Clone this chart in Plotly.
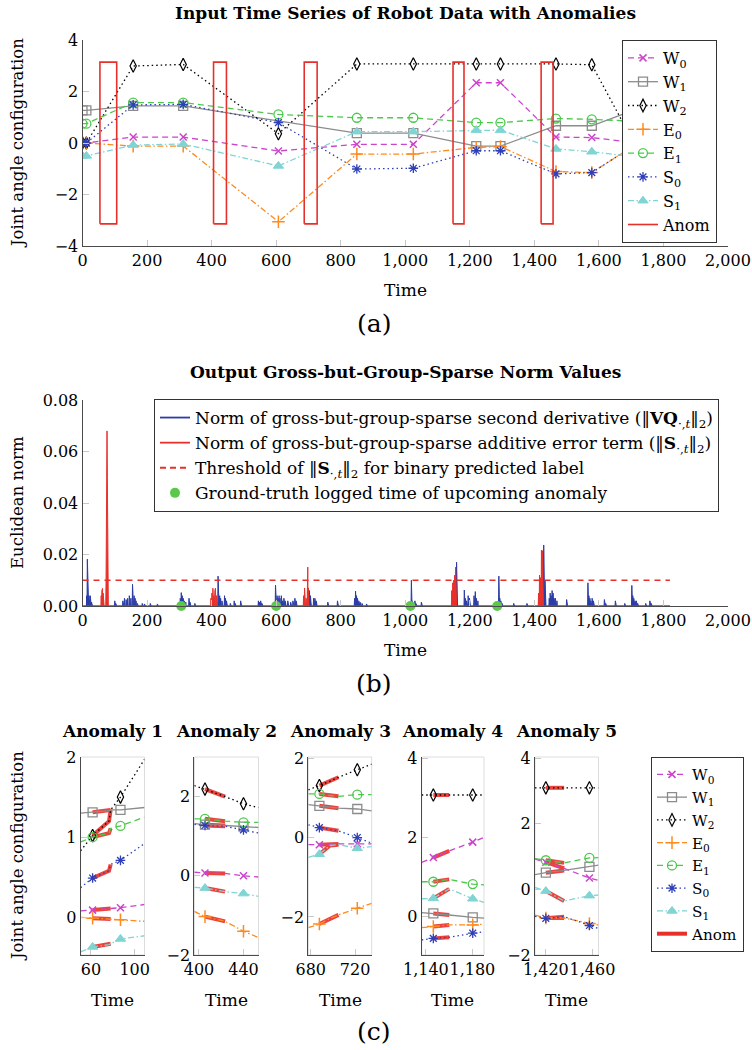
import numpy as np
import plotly.graph_objects as go

FONT = "DejaVu Serif"
W, H = 752, 1050

# ---------------- (a) input time series ----------------
time_a = [0, 12, 157, 312, 607, 850, 1025, 1220, 1295, 1467, 1578, 1700]
w0_a = [0.0, 0.0, 0.23, 0.23, -0.31, -0.05, -0.05, 2.34, 2.34, 0.23, 0.21, 0.03]
w1_a = [1.27, 1.27, 1.44, 1.44, None, 0.38, 0.38, -0.12, -0.12, 0.67, 0.67, 1.24]
w2_a = [0.0, 0.0, 2.99, 3.05, 0.36, 3.07, 3.07, 3.07, 3.07, 3.07, 3.04, 0.2]
e0_a = [0.0, 0.0, -0.12, -0.12, -3.06, -0.43, -0.43, -0.17, -0.14, -1.11, -1.15, -0.17]
e1_a = [0.75, 0.75, 1.57, 1.57, 1.11, 0.98, 0.98, 0.79, 0.79, 0.95, 0.92, 0.85]
s0_a = [0.0, 0.0, 1.48, 1.50, 0.79, -1.01, -0.98, -0.30, -0.30, -1.20, -1.15, -0.17]
s1_a = [-0.5, -0.5, -0.08, -0.04, -0.89, 0.44, 0.44, 0.50, 0.50, -0.23, -0.34, -0.52]

anom_start = [54, 406, 687, 1148, 1421]
anom_end = [106, 446, 727, 1182, 1458]
anom_low, anom_high = -3.14, 3.14

# ---------------- (b) norm values ----------------
norm_t_end = 1820
vq_spike_t = [13, 15, 16, 18, 20, 22, 24, 26, 28, 100, 103,
              125, 130, 135, 140, 145, 150, 155, 157, 160, 163, 166, 170, 185, 192, 210, 232,
              303, 306, 309, 312, 315, 320, 330, 333, 348,
              420, 422, 425, 428, 432, 440, 443, 446, 458, 470, 473, 490,
              545, 548, 552, 556,
              598, 600, 603, 606, 609, 612, 616, 620, 624, 628, 636, 645, 652, 658, 662,
              703, 706, 716, 720, 724, 760, 790,
              843, 846, 849, 852, 856, 860, 866, 880,
              1019, 1022, 1030, 1033, 1050,
              1159, 1161, 1183, 1186, 1190, 1195, 1199, 1213, 1217, 1220, 1225,
              1290, 1293, 1296, 1300, 1336, 1377,
              1429, 1431, 1433, 1446, 1449, 1452, 1455, 1458, 1461, 1465, 1470, 1500,
              1566, 1569, 1572, 1575, 1579, 1583, 1617, 1621, 1651, 1680,
              1702, 1705, 1708, 1712, 1716, 1720, 1745, 1758, 1762]
vq_spike_v = [0.004, 0.0182, 0.008, 0.003, 0.004, 0.002, 0.004, 0.003, 0.0015, 0.002, 0.001,
              0.002, 0.003, 0.0025, 0.003, 0.004, 0.003, 0.0084, 0.006, 0.004, 0.003, 0.002, 0.001, 0.001, 0.0008, 0.001, 0.0008,
              0.003, 0.0052, 0.004, 0.003, 0.002, 0.0015, 0.003, 0.0015, 0.001,
              0.0116, 0.006, 0.004, 0.003, 0.002, 0.004, 0.003, 0.002, 0.001, 0.002, 0.001, 0.002,
              0.002, 0.0015, 0.002, 0.001,
              0.0081, 0.005, 0.004, 0.003, 0.004, 0.003, 0.004, 0.002, 0.003, 0.002, 0.002, 0.0015, 0.002, 0.003, 0.002,
              0.006, 0.004, 0.003, 0.003, 0.002, 0.0015, 0.002,
              0.003, 0.0058, 0.004, 0.003, 0.002, 0.0015, 0.001, 0.0008,
              0.0100, 0.002, 0.002, 0.001, 0.0015,
              0.017, 0.008, 0.0062, 0.003, 0.002, 0.004, 0.003, 0.004, 0.0056, 0.003, 0.002,
              0.0116, 0.003, 0.002, 0.001, 0.001, 0.001,
              0.0237, 0.023, 0.01, 0.003, 0.005, 0.004, 0.006, 0.005, 0.003, 0.003, 0.002, 0.0025,
              0.009, 0.004, 0.003, 0.002, 0.003, 0.002, 0.0025, 0.001, 0.002, 0.001,
              0.008, 0.004, 0.003, 0.002, 0.002, 0.001, 0.001, 0.002, 0.001]
s_spike_t = [58, 60, 62, 64, 66, 73, 74, 75, 76, 77, 78,
             398, 401, 404, 407, 410, 412, 415,
             685, 688, 690, 693, 697, 698, 700,
             1144, 1147, 1150, 1153, 1156, 1158,
             1413, 1416, 1419, 1422, 1425, 1427]
s_spike_v = [0.004, 0.006, 0.0068, 0.005, 0.002, 0.01, 0.05, 0.068, 0.068, 0.05, 0.01,
             0.003, 0.005, 0.0069, 0.004, 0.006, 0.0069, 0.004,
             0.004, 0.007, 0.006, 0.003, 0.008, 0.0151, 0.007,
             0.006, 0.009, 0.01, 0.012, 0.0151, 0.008,
             0.005, 0.012, 0.011, 0.0217, 0.0215, 0.01]
threshold = 0.01
gt_anomaly_t = [306, 600, 1016, 1285]

# ---------------- (c) zoomed anomalies ----------------
a1_t = [50.5, 61.5, 76.5, 78, 87, 109]
a1_W0 = [0.08, 0.09, 0.105, 0.11, 0.12, 0.16]
a1_W1 = [1.30, 1.31, 1.33, 1.34, 1.34, 1.37]
a1_W2 = [0.83, 1.02, 1.2, 1.34, 1.5, 1.97]
a1_E0 = [0.0, -0.01, -0.02, -0.02, -0.03, -0.05]
a1_E1 = [0.94, 1.0, 1.05, 1.11, 1.14, 1.25]
a1_S0 = [0.37, 0.49, 0.58, 0.66, 0.71, 0.92]
a1_S1 = [-0.43, -0.37, -0.34, -0.33, -0.27, -0.23]

a2_t = [395.8, 405.4, 423.5, 440, 453.5]
a2_W0 = [0.09, 0.07, 0.06, 0.0, -0.03]
a2_W1 = [1.32, 1.29, 1.27, 1.24, 1.22]
a2_W2 = [2.28, 2.19, 2.0, 1.82, 1.72]
a2_E0 = [-0.9, -1.03, -1.15, -1.4, -1.56]
a2_E1 = [1.44, 1.44, 1.38, 1.35, 1.35]
a2_S0 = [1.30, 1.27, 1.25, 1.16, 1.08]
a2_S1 = [-0.29, -0.31, -0.40, -0.45, -0.52]

a3_t = [677.8, 687.8, 697.4, 705, 722, 735]
a3_W0 = [-0.18, -0.18, -0.17, -0.16, -0.16, -0.16]
a3_W1 = [0.83, 0.80, 0.77, 0.74, 0.72, 0.67]
a3_W2 = [1.2, 1.31, 1.42, 1.52, 1.71, 1.85]
a3_E0 = [-2.27, -2.18, -2.04, -1.95, -1.78, -1.66]
a3_E1 = [1.1, 1.1, 1.06, 1.04, 1.08, 1.08]
a3_S0 = [0.32, 0.25, 0.2, 0.17, 0.0, -0.14]
a3_S1 = [-0.5, -0.42, -0.2, -0.18, -0.27, -0.23]

a4_t = [1136.4, 1146.4, 1160.1, 1180.3, 1190]
a4_W0 = [1.37, 1.49, 1.66, 1.88, 2.0]
a4_W1 = [0.1, 0.08, 0.04, -0.02, -0.04]
a4_W2 = [3.07, 3.07, 3.07, 3.07, 3.07]
a4_E0 = [-0.28, -0.25, -0.21, -0.21, -0.19]
a4_E1 = [0.88, 0.88, 0.94, 0.82, 0.8]
a4_S0 = [-0.59, -0.55, -0.52, -0.42, -0.38]
a4_S1 = [0.45, 0.46, 0.7, 0.45, 0.36]

a5_t = [1410.7, 1420, 1435.7, 1457.4, 1465.2]
a5_W0 = [0.93, 0.83, 0.64, 0.35, 0.28]
a5_W1 = [0.45, 0.51, 0.58, 0.69, 0.74]
a5_W2 = [3.1, 3.1, 3.1, 3.1, 3.1]
a5_E0 = [-0.78, -0.87, -0.87, -1.04, -1.09]
a5_E1 = [0.94, 0.89, 0.81, 0.96, 0.97]
a5_S0 = [-0.82, -0.88, -0.83, -1.1, -1.19]
a5_S1 = [0.06, -0.05, -0.35, -0.19, -0.17]

c_marker_t = [[61.5, 87], [405.4, 440], [687.8, 722], [1146.4, 1180.3], [1420, 1457.4]]
c_anom = [[61.5, 78], [405.4, 423.5], [687.8, 705], [1146.4, 1160.1], [1420, 1435.7]]
c_titles = ["Anomaly 1", "Anomaly 2", "Anomaly 3", "Anomaly 4", "Anomaly 5"]
c_xrange = [[50.5, 109], [395.8, 453.5], [677.8, 735], [1136.4, 1190], [1410.7, 1465.2]]
c_yrange = [[-0.47, 2.0], [-2.0, 3.0], [-2.96, 2.03], [-0.97, 4.03], [-2.0, 4.04]]
c_xticks = [[60, 100], [400, 440], [680, 720], [1140, 1180], [1420, 1460]]
c_yticks = [[0, 1, 2], [-2, 0, 2], [-2, 0, 2], [0, 2, 4], [-2, 0, 2, 4]]

series_names = ["W<sub>0</sub>", "W<sub>1</sub>", "W<sub>2</sub>", "E<sub>0</sub>",
                "E<sub>1</sub>", "S<sub>0</sub>", "S<sub>1</sub>"]

# ---------------- styles ----------------
STY = [
    dict(color="#CC44CC", dash="6px,4px", symbol="x-thin-open", size=7, mlw=1.5),
    dict(color="#8C8C8C", dash="solid", symbol="square-open", size=9, mlw=1.3),
    dict(color="#000000", dash="1.5px,3px", symbol="diamond-tall-open", size=9, mlw=1.2),
    dict(color="#FF8A1E", dash="6px,2.5px,1.5px,2.5px", symbol="cross-thin-open", size=9, mlw=1.5),
    dict(color="#4CC94C", dash="6px,4px", symbol="circle-open", size=9, mlw=1.3),
    dict(color="#2E3FB8", dash="1.5px,3px", symbol="asterisk-open", size=8, mlw=1.3),
    dict(color="#80D4D4", dash="6px,2.5px,1.5px,2.5px", symbol="triangle-up", size=9, mlw=1),
]
RED = "#E8302A"
BLUE = "#2B3CA6"
GREEN = "#5CC84A"


def X(px):
    return px / W


def Y(py):
    return 1 - py / H


fig = go.Figure()

# ---------------- (a) traces ----------------
a_series = [w0_a, w1_a, w2_a, e0_a, e1_a, s0_a, s1_a]
for name, vals, st in zip(series_names, a_series, STY):
    fig.add_trace(go.Scatter(
        x=time_a, y=vals, name=name, mode="lines+markers", connectgaps=True,
        line=dict(color=st["color"], width=1.3, dash=st["dash"]),
        marker=dict(symbol=st["symbol"], size=st["size"], color=st["color"],
                    line=dict(color=st["color"], width=st["mlw"])),
        xaxis="x", yaxis="y", legend="legend"))

rx, ry = [], []
for s, e in zip(anom_start, anom_end):
    rx += [s, e, e, s, s, None]
    ry += [anom_low, anom_low, anom_high, anom_high, anom_low, None]
fig.add_trace(go.Scatter(x=rx, y=ry, name="Anom", mode="lines",
                         line=dict(color=RED, width=1.6), xaxis="x", yaxis="y",
                         legend="legend"))

# ---------------- (b) traces ----------------
t_b = np.arange(0, norm_t_end + 1)
vq_b = np.zeros(len(t_b))
vq_b[vq_spike_t] = vq_spike_v
s_b = np.zeros(len(t_b))
s_b[s_spike_t] = s_spike_v

fig.add_trace(go.Scatter(x=t_b, y=vq_b, mode="lines", line=dict(color=BLUE, width=1),
                         fill="tozeroy", fillcolor=BLUE, showlegend=False,
                         xaxis="x2", yaxis="y2"))
fig.add_trace(go.Scatter(x=t_b, y=s_b, mode="lines", line=dict(color=RED, width=1),
                         fill="tozeroy", fillcolor=RED, showlegend=False,
                         xaxis="x2", yaxis="y2"))
fig.add_trace(go.Scatter(x=[0, norm_t_end], y=[threshold, threshold], mode="lines",
                         line=dict(color=RED, width=1.5, dash="6px,5px"), showlegend=False,
                         xaxis="x2", yaxis="y2"))
fig.add_trace(go.Scatter(x=gt_anomaly_t, y=[0] * len(gt_anomaly_t), mode="markers",
                         marker=dict(color=GREEN, size=10), cliponaxis=False,
                         showlegend=False, xaxis="x2", yaxis="y2"))

b_leg = [
    ("Norm of gross-but-group-sparse second derivative (‖<b>VQ</b><sub>·,<i>t</i></sub>‖<sub>2</sub>)",
     dict(mode="lines", line=dict(color=BLUE, width=1.8))),
    ("Norm of gross-but-group-sparse additive error term (‖<b>S</b><sub>·,<i>t</i></sub>‖<sub>2</sub>)",
     dict(mode="lines", line=dict(color=RED, width=1.8))),
    ("Threshold of ‖<b>S</b><sub>·,<i>t</i></sub>‖<sub>2</sub> for binary predicted label",
     dict(mode="lines", line=dict(color=RED, width=1.8, dash="6px,4px"))),
    ("Ground-truth logged time of upcoming anomaly",
     dict(mode="markers", marker=dict(color=GREEN, size=10))),
]
for name, kw in b_leg:
    fig.add_trace(go.Scatter(x=[None], y=[None], name=name, xaxis="x2", yaxis="y2",
                             legend="legend2", **kw))

# ---------------- (c) traces ----------------
c_data = [
    (a1_t, [a1_W0, a1_W1, a1_W2, a1_E0, a1_E1, a1_S0, a1_S1]),
    (a2_t, [a2_W0, a2_W1, a2_W2, a2_E0, a2_E1, a2_S0, a2_S1]),
    (a3_t, [a3_W0, a3_W1, a3_W2, a3_E0, a3_E1, a3_S0, a3_S1]),
    (a4_t, [a4_W0, a4_W1, a4_W2, a4_E0, a4_E1, a4_S0, a4_S1]),
    (a5_t, [a5_W0, a5_W1, a5_W2, a5_E0, a5_E1, a5_S0, a5_S1]),
]
for k, (tt, vals_list) in enumerate(c_data):
    xa, ya = "x%d" % (k + 3), "y%d" % (k + 3)
    a0, a1 = c_anom[k]
    ox, oy = [], []
    for vals in vals_list:
        idx = [i for i, t in enumerate(tt) if a0 - 1e-9 <= t <= a1 + 1e-9]
        ox += [tt[i] for i in idx] + [None]
        oy += [vals[i] for i in idx] + [None]
    fig.add_trace(go.Scatter(x=ox, y=oy, mode="lines", line=dict(color=RED, width=4),
                             opacity=0.9, showlegend=False, xaxis=xa, yaxis=ya))
    for vals, st in zip(vals_list, STY):
        fig.add_trace(go.Scatter(x=tt, y=vals, mode="lines",
                                 line=dict(color=st["color"], width=1.3, dash=st["dash"]),
                                 showlegend=False, xaxis=xa, yaxis=ya))
        midx = [i for i, t in enumerate(tt) if any(abs(t - m) < 1e-6 for m in c_marker_t[k])]
        fig.add_trace(go.Scatter(x=[tt[i] for i in midx], y=[vals[i] for i in midx],
                                 mode="markers",
                                 marker=dict(symbol=st["symbol"], size=st["size"], color=st["color"],
                                             line=dict(color=st["color"], width=st["mlw"])),
                                 cliponaxis=False, showlegend=False, xaxis=xa, yaxis=ya))

for name, st in zip(series_names, STY):
    fig.add_trace(go.Scatter(x=[None], y=[None], name=name, mode="lines+markers",
                             line=dict(color=st["color"], width=1.3, dash=st["dash"]),
                             marker=dict(symbol=st["symbol"], size=st["size"], color=st["color"],
                                         line=dict(color=st["color"], width=st["mlw"])),
                             xaxis="x3", yaxis="y3", legend="legend3"))
fig.add_trace(go.Scatter(x=[None], y=[None], name="Anom", mode="lines",
                         line=dict(color=RED, width=4), xaxis="x3", yaxis="y3",
                         legend="legend3"))

# ---------------- layout ----------------
tickfont = dict(family=FONT, size=16, color="black")
base_axis = dict(showline=True, linecolor="#4a4a4a", linewidth=1, ticks="inside", ticklen=6,
                 tickcolor="#c8c8c8", tickwidth=1, showgrid=False, zeroline=False,
                 tickfont=tickfont, mirror=False, fixedrange=True, automargin=False,
                 tickangle=0)

lay = dict(
    width=W, height=H, margin=dict(l=0, r=0, t=0, b=0, pad=0, autoexpand=False),
    paper_bgcolor="white", plot_bgcolor="white", showlegend=True,
    font=dict(family=FONT, size=16, color="black"),
    xaxis=dict(base_axis, domain=[X(82.5), X(728)], range=[0, 2000], dtick=200,
               tickformat=",d", anchor="y"),
    yaxis=dict(base_axis, domain=[Y(246), Y(40)], range=[-4, 4], dtick=2, anchor="x"),
    xaxis2=dict(base_axis, domain=[X(82.5), X(728)], range=[0, 2000], dtick=200,
                tickformat=",d", anchor="y2"),
    yaxis2=dict(base_axis, domain=[Y(606), Y(400)], range=[0, 0.08], dtick=0.02,
                tickformat=".2f", anchor="x2"),
)
c_dom = [[80.6, 144.5], [194.3, 258.5], [308.3, 371.7], [421.7, 484], [535, 598.5]]
for k in range(5):
    lay["xaxis%d" % (k + 3)] = dict(base_axis, domain=[X(c_dom[k][0]), X(c_dom[k][1])],
                                    range=c_xrange[k], tickvals=c_xticks[k], tickformat=",d",
                                    anchor="y%d" % (k + 3))
    lay["yaxis%d" % (k + 3)] = dict(base_axis, domain=[Y(955), Y(757)], range=c_yrange[k],
                                    tickvals=c_yticks[k], anchor="x%d" % (k + 3))

leg_common = dict(bgcolor="white", bordercolor="#333333", borderwidth=1,
                  xanchor="left", yanchor="top", tracegroupgap=0)
lay["legend"] = dict(leg_common, x=X(622), y=Y(40),
                     font=dict(family=FONT, size=16, color="black"))
lay["legend2"] = dict(leg_common, x=X(154), y=Y(399),
                      font=dict(family=FONT, size=17, color="black"))
lay["legend3"] = dict(leg_common, x=X(651), y=Y(757),
                      font=dict(family=FONT, size=15.2, color="black"))

shapes = []
for k in range(5):
    shapes.append(dict(type="rect", xref="x%d domain" % (k + 3), yref="y%d domain" % (k + 3),
                       x0=0, x1=1, y0=0, y1=1, line=dict(color="#dddddd", width=1),
                       layer="below"))
lay["shapes"] = shapes

ann = []


def add_text(text, px, py, size=16.5, angle=0):
    ann.append(dict(text=text, x=X(px), y=Y(py), xref="paper", yref="paper",
                    showarrow=False, xanchor="center", yanchor="middle", textangle=angle,
                    font=dict(family=FONT, size=size, color="black")))


add_text("<b>Input Time Series of Robot Data with Anomalies</b>", 405, 13, size=17)
add_text("Joint angle configuration", 17, 143, angle=-90)
add_text("Time", 405, 290, size=17)
add_text("(a)", 374, 323, size=25)
add_text("<b>Output Gross-but-Group-Sparse Norm Values</b>", 405, 372, size=17)
add_text("Euclidean norm", 17, 503, angle=-90)
add_text("Time", 405, 650, size=17)
add_text("(b)", 374, 683, size=25)
for k in range(5):
    cx = (c_dom[k][0] + c_dom[k][1]) / 2
    add_text("<b>%s</b>" % c_titles[k], cx, 731, size=17)
    add_text("Time", cx, 1000, size=17)
add_text("Joint angle configuration", 17, 856, angle=-90)
add_text("(c)", 374, 1031, size=25)
lay["annotations"] = ann

fig.update_layout(**lay)
fig.write_html("out.html", config={"displayModeBar": False},
               post_script="document.body.style.margin='0';document.body.style.overflow='hidden';")
